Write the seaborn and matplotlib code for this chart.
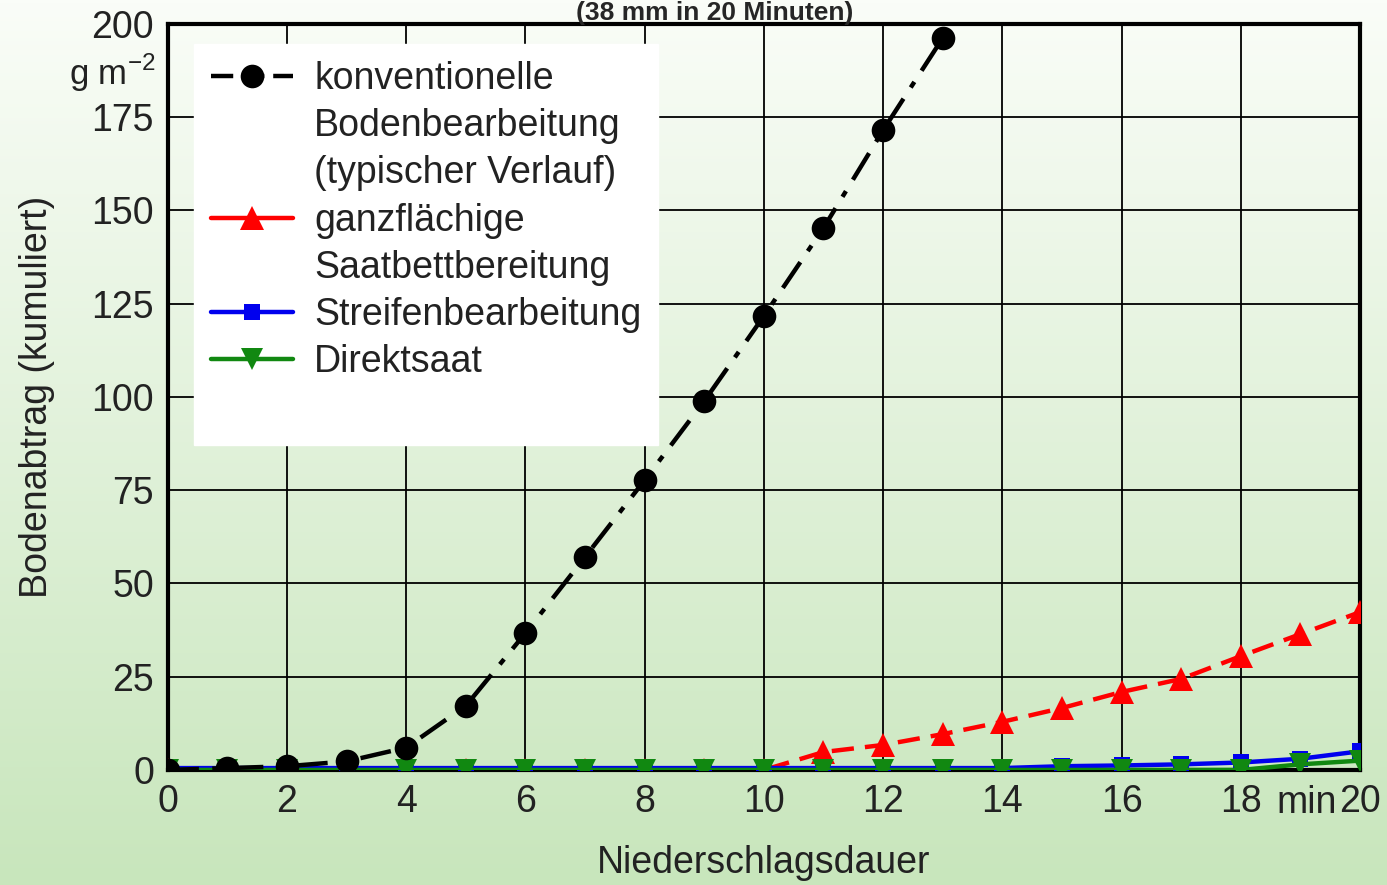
import numpy as np
import pandas as pd
import matplotlib
matplotlib.use('Agg')
import matplotlib.pyplot as plt
from matplotlib.lines import Line2D
import seaborn as sns

# ==============================
# 1. Data
# ==============================
minutes = list(range(0, 21))
konventionell = [0, 0.5, 1, 2.3, 6, 17.2, 36.7, 57.1, 77.7, 98.9, 121.7,
                 145.3, 171.5, 196.2, None, None, None, None, None, None, None]
ganzflaechig = [0, 0, 0, 0, 0, 0, 0, 0, 0, 0, 0,
                4.8, 6.7, 9.6, 12.9, 16.6, 20.9, 24.4, 30.5, 36.4, 42.3]
streifen = [0.5, 0.5, 0.5, 0.5, 0.5, 0.5, 0.5, 0.5, 0.5, 0.5, 0.5,
            0.5, 0.5, 0.5, 0.5, 1.0, 1.2, 1.5, 2.0, 3.0, 5.0]
direktsaat = [0, 0, 0, 0, 0, 0, 0, 0, 0, 0, 0,
              0, 0, 0, 0, 0, 0, 0, 0, 1.5, 2.5]

x_ticks = list(range(0, 21, 2))
y_ticks = list(range(0, 201, 25))

df = pd.DataFrame({'min': minutes, 'konv': konventionell, 'ganz': ganzflaechig,
                   'streifen': streifen, 'direkt': direktsaat})

# ==============================
# 2. Figure setup
# ==============================
sns.set_style('white')
plt.rcParams['font.family'] = ['Liberation Sans', 'DejaVu Sans']
txt_col = '#222222'

fig = plt.figure(figsize=(13.87, 8.85), dpi=100)

# background gradient white -> light green
bg = fig.add_axes([0, 0, 1, 1], zorder=-10)
grad = np.linspace(0, 1, 256).reshape(-1, 1)
top = np.array([250, 253, 248]) / 255
bottom = np.array([200, 230, 188]) / 255
img = top + (bottom - top) * grad[:, :, None]
bg.imshow(img, aspect='auto', extent=[0, 1, 0, 1])
bg.axis('off')

ax = fig.add_axes([0.121, 0.130, 0.8595, 0.843])
ax.patch.set_alpha(0)

# ==============================
# 3. Lines
# ==============================
lw = 3.2
konv_style = (0, (7, 3, 1.5, 3))
sns.lineplot(data=df, x='min', y='ganz', ax=ax, color='#ff0000', marker='^',
             markersize=17, markeredgewidth=0, linewidth=lw,
             linestyle=(0, (5, 2.5)), zorder=3)
sns.lineplot(data=df, x='min', y='streifen', ax=ax, color='#0000ee', marker='s',
             markersize=12, markeredgewidth=0, linewidth=lw, zorder=4)
sns.lineplot(data=df, x='min', y='direkt', ax=ax, color='#118811', marker='v',
             markersize=16, markeredgewidth=0, linewidth=lw, zorder=5)
sns.lineplot(data=df.dropna(), x='min', y='konv', ax=ax, color='black', marker='o',
             markersize=17, markeredgewidth=0, linewidth=lw,
             linestyle=konv_style, zorder=6)

# ==============================
# 4. Axes styling
# ==============================
ax.set_xlim(0, 20)
ax.set_ylim(0, 200)
ax.set_xticks(x_ticks)
ax.set_yticks(y_ticks)
ax.set_xticklabels(['0', '2', '4', '6', '8', '10', '12', '14', '16', '18', '20'])
ax.tick_params(axis='both', labelsize=27, length=0, pad=10, labelcolor=txt_col)
ax.grid(True, color='black', linewidth=1.3)
ax.set_axisbelow(True)
for s in ax.spines.values():
    s.set_color('black')
    s.set_linewidth(3)
    s.set_visible(True)

ax.set_xlabel('Niederschlagsdauer', fontsize=27, labelpad=18, color=txt_col)
ax.set_ylabel('Bodenabtrag (kumuliert)', fontsize=27, labelpad=26, color=txt_col)
ax.text(19.1, -4, 'min', fontsize=27, ha='center', va='top', clip_on=False,
        color=txt_col)
ax.text(-0.2, 186.8, 'g m$^{\\mathregular{-2}}$', fontsize=25, ha='right',
        va='center', clip_on=False, color=txt_col)

fig.text(0.515, 1 - 20 / 885, '(38 mm in 20 Minuten)', fontsize=19,
         fontweight='bold', ha='center', va='baseline')

# ==============================
# 5. Legend
# ==============================
blank = Line2D([], [], alpha=0)
handles = [
    Line2D([], [], color='black', marker='o', markersize=17, linewidth=lw,
           linestyle=(0, (5, 2)), markeredgewidth=0),
    blank, blank,
    Line2D([], [], color='#ff0000', marker='^', markersize=17, linewidth=lw,
           markeredgewidth=0),
    blank,
    Line2D([], [], color='#0000ee', marker='s', markersize=12, linewidth=lw,
           markeredgewidth=0),
    Line2D([], [], color='#118811', marker='v', markersize=16, linewidth=lw,
           markeredgewidth=0),
    blank,
]
labels = ['konventionelle', 'Bodenbearbeitung', '(typischer Verlauf)',
          'ganzflächige', 'Saatbettbereitung', 'Streifenbearbeitung', 'Direktsaat', ' ']
leg = ax.legend(handles, labels, loc='upper left', bbox_to_anchor=(0.022, 0.973),
                fontsize=27, frameon=True, fancybox=False, framealpha=1,
                edgecolor='white', handlelength=2.2, handletextpad=0.55,
                labelspacing=0.3, borderpad=0.45, borderaxespad=0)
leg.set_zorder(10)
for t in leg.get_texts():
    t.set_color(txt_col)

plt.savefig('out.png', dpi=100)
plt.close()
